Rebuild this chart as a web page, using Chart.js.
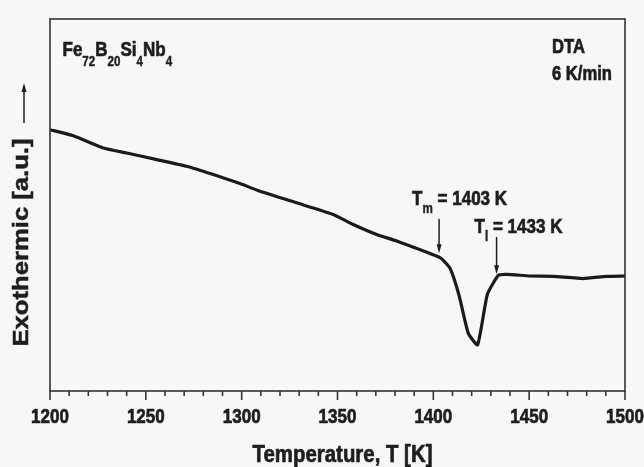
<!DOCTYPE html>
<html><head><meta charset="utf-8">
<script src="https://cdn.jsdelivr.net/npm/chart.js@4/dist/chart.umd.min.js"></script>
<style>
html,body{margin:0;padding:0;background:#f7f7f7;}
#wrap{width:644px;height:467px;position:relative;}
</style></head>
<body><div id="wrap"><canvas id="c" width="644" height="467"></canvas></div>
<script>
const temperatures = [1200,1212.2,1227.8,1240,1255.7,1271.3,1285.2,1299.1,1309.6,1328.7,1347.8,1358.2,1370.4,1380.9,1403.5,1408.7,1413.5,1418.2,1423.1,1428.2,1433.9,1438.3,1450.4,1462.4,1478.2,1490.4,1500];
const signal = [262,256,243.7,238.7,232,225.3,217,208,200.3,188.7,177,167,157,150.3,133.7,123,95.3,58,46.3,97,116,117,115.3,115,112.7,115,115.3];
const xMajorTicks = [1200,1250,1300,1350,1400,1450,1500];
const xTitle = 'Temperature, T [K]';
const yTitle = 'Exothermic [a.u.]';
const alloyLabel = [['Fe',0],['72',1],['B',0],['20',1],['Si',0],['4',1],['Nb',0],['4',1]];
const methodLabel = ['DTA','6 K/min'];
const Tm = 1403, Tl = 1433;
const tmLabel = [['T',0],['m',1],[' = 1403 K',0]];
const tlLabel = [['T',0],['l',1],[' = 1433 K',0]];

const FAM = '"Liberation Sans",Arial,sans-serif';
const INK = '#1e1e1e';
const K = 0.83; // narrow condensation

function narrowText(ctx, t, x, y, size, k, align){
  ctx.save();
  ctx.font = 'bold ' + size + 'px ' + FAM;
  ctx.textBaseline = 'alphabetic'; ctx.textAlign = 'left';
  const w = ctx.measureText(t).width * k;
  let sx = x;
  if (align === 'center') sx = x - w/2;
  else if (align === 'right') sx = x - w;
  ctx.translate(sx, y); ctx.scale(k, 1);
  ctx.fillStyle = INK; ctx.strokeStyle = INK; ctx.lineWidth = size > 16 ? 0.7 : 0.4;
  ctx.fillText(t, 0, 0);
  ctx.strokeText(t, 0, 0);
  ctx.restore();
  return w;
}
function rich(ctx, x, y, parts, size, subSize, subOff){
  for (const [t, sub] of parts){
    x += narrowText(ctx, t, x, sub ? y + subOff : y, sub ? subSize : size, K, 'left');
  }
}
function arrow(ctx, x, y1, y2){
  const dir = Math.sign(y2 - y1);
  ctx.beginPath(); ctx.moveTo(x, y1); ctx.lineTo(x, y2 - dir*6); ctx.stroke();
  ctx.beginPath(); ctx.moveTo(x, y2); ctx.lineTo(x-2.5, y2 - dir*9); ctx.lineTo(x+2.5, y2 - dir*9); ctx.closePath(); ctx.fill();
}
function curveY(t){
  for (let i=0;i<temperatures.length-1;i++){
    if (t>=temperatures[i] && t<=temperatures[i+1]){
      const f=(t-temperatures[i])/(temperatures[i+1]-temperatures[i]);
      return signal[i]+f*(signal[i+1]-signal[i]);
    }
  }
  return signal[signal.length-1];
}

const deco = {
  id:'deco',
  beforeDraw(chart){
    const ctx = chart.ctx;
    ctx.save(); ctx.fillStyle='#f7f7f7'; ctx.fillRect(0,0,chart.width,chart.height); ctx.restore();
  },
  afterDraw(chart){
    const ctx = chart.ctx, a = chart.chartArea, xs = chart.scales.x, ys = chart.scales.y;
    ctx.save();
    ctx.strokeStyle = '#333'; ctx.fillStyle = INK; ctx.lineWidth = 1.6;
    ctx.strokeRect(a.left, a.top, a.right - a.left, a.bottom - a.top);
    // x ticks: minor every 10, major (labelled) from the scale's ticks
    for (let v = xs.min; v <= xs.max + 0.001; v += 10){
      const px = xs.getPixelForValue(v);
      const major = xMajorTicks.includes(v);
      ctx.beginPath(); ctx.moveTo(px, a.bottom); ctx.lineTo(px, a.bottom + (major ? 9 : 5)); ctx.stroke();
    }
    xs.ticks.forEach(t => {
      narrowText(ctx, String(t.value), xs.getPixelForValue(t.value), 423, 20.5, K, 'center');
    });
    // x title
    narrowText(ctx, xTitle, (a.left + a.right)/2 + 5, 462, 24, 0.85, 'center');
    // y title
    ctx.save();
    ctx.translate(28, 242.5); ctx.rotate(-Math.PI/2);
    ctx.font = 'bold 22px ' + FAM;
    const w = ctx.measureText(yTitle).width;
    const sx = 208 / w;
    ctx.scale(sx, 1);
    ctx.textAlign = 'center'; ctx.textBaseline = 'alphabetic';
    ctx.fillStyle = INK; ctx.strokeStyle = INK; ctx.lineWidth = 0.5;
    ctx.fillText(yTitle, 0, 0);
    ctx.strokeText(yTitle, 0, 0);
    ctx.restore();
    ctx.strokeStyle = INK; ctx.lineWidth = 1.5;
    arrow(ctx, 24, 123, 83);
    // alloy label
    rich(ctx, 62.5, 56, alloyLabel, 20.5, 14, 10);
    narrowText(ctx, methodLabel[0], 552, 52.7, 20, K, 'left');
    narrowText(ctx, methodLabel[1], 552, 80, 20, K, 'left');
    // annotations
    const xm = xs.getPixelForValue(Tm), ym = ys.getPixelForValue(curveY(Tm));
    const xl = xs.getPixelForValue(Tl), yl = ys.getPixelForValue(curveY(Tl));
    rich(ctx, xm - 27, 205, tmLabel, 20.5, 14, 8);
    ctx.strokeStyle = INK; ctx.lineWidth = 1.5;
    arrow(ctx, xm, 219, ym - 4);
    rich(ctx, xl - 22, 233, tlLabel, 20.5, 14, 8);
    ctx.strokeStyle = INK; ctx.lineWidth = 1.5;
    arrow(ctx, xl, 237, yl - 4);
    ctx.restore();
  }
};

new Chart(document.getElementById('c'), {
  type:'line',
  data:{ datasets:[{ data: temperatures.map((t,i)=>({x:t,y:signal[i]})), borderColor:'#1a1a1a', borderWidth:3.2, pointRadius:0, tension:0.15, fill:false }]},
  options:{
    responsive:false, animation:false, devicePixelRatio:1,
    layout:{ padding:{ top:19, right:19, left:0, bottom:0 } },
    plugins:{ legend:{display:false}, tooltip:{enabled:false} },
    scales:{
      x:{ type:'linear', min:1200, max:1500,
        grid:{display:false, drawTicks:false}, border:{display:false},
        ticks:{ stepSize:50, display:false, callback:v => String(v) },
        afterFit(s){ s.height = 76; }
      },
      y:{ type:'linear', min:0, max:373,
        grid:{display:false, drawTicks:false}, border:{display:false},
        ticks:{ display:false },
        afterFit(s){ s.width = 50; }
      }
    }
  },
  plugins:[deco]
});
</script></body></html>
